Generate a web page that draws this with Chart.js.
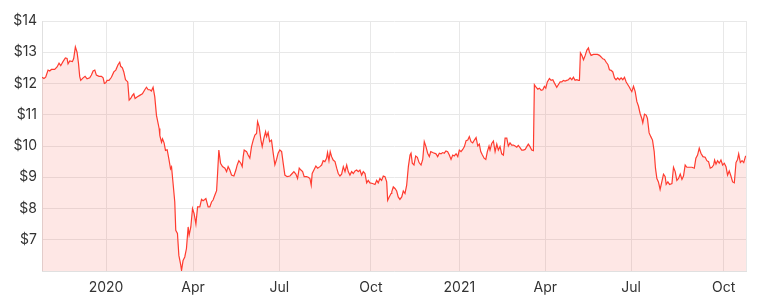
<!DOCTYPE html>
<html>
<head>
<meta charset="utf-8">
<script src="https://cdn.jsdelivr.net/npm/chart.js@4/dist/chart.umd.min.js"></script>
<style>
html,body{margin:0;padding:0;background:#fff;}
#wrap{width:764px;height:304px;position:relative;}
</style>
</head>
<body>
<div id="wrap"><canvas id="c" width="764" height="304"></canvas></div>
<script>
// Trading-session index (0 = first session shown, ~Nov 2019) and closing price
const sessionIdx = [
0,1.4,2.6,4.3,5.5,6.7,9.0,10.7,12.1,13.3,14.9,16.6,17.8,18.5,19.7,21.6,22.5,23.7,24.9,25.9,
26.8,27.5,29.2,30.6,32.0,33.9,35.1,36.3,37.5,38.6,40.5,42.2,43.4,44.3,45.3,46.2,47.6,49.3,51.0,52.4,
54.0,55.2,55.9,57.1,58.1,59.3,60.9,61.9,63.0,64.2,65.2,66.1,67.5,69.4,71.3,73.0,74.2,75.4,76.6,77.7,
78.9,80.1,81.3,83.2,83.7,84.9,85.6,86.7,87.7,88.9,90.1,91.3,92.0,93.1,94.3,95.0,96.2,97.2,98.4,99.1,
100.2,101.4,102.6,103.8,104.5,105.7,106.9,108.0,109.3,110.5,112.1,113.3,114.4,115.6,116.4,118.0,119.2,120.4,121.5,122.8,
124.0,124.7,125.6,126.8,128.2,129.9,131.1,132.2,133.4,134.6,136.3,137.7,138.6,139.8,141.2,142.2,142.9,143.6,145.3,146.4,
147.6,148.8,150.0,151.2,152.4,153.1,154.2,155.5,156.4,157.6,158.8,159.5,160.6,161.7,163.0,164.2,165.4,166.6,167.7,168.9,
170.2,171.3,172.5,174.1,176.1,177.7,178.9,180.3,181.5,182.7,183.9,185.1,186.2,187.9,189.1,190.3,191.2,191.9,193.3,194.5,
195.8,197.4,198.6,199.7,200.9,202.1,202.8,203.8,204.7,205.7,206.8,208.1,209.3,210.4,211.6,212.8,214.0,215.2,216.4,217.5,
218.7,219.9,221.1,222.3,223.5,224.6,225.8,227.0,228.2,229.4,230.6,231.7,232.9,234.8,236.5,237.7,238.8,240.0,241.2,242.4,
243.6,244.8,245.5,246.6,247.9,248.4,249.5,250.7,251.9,253.0,254.2,255.5,256.6,257.8,259.0,260.2,261.4,262.1,263.0,264.2,
265.4,266.6,267.8,269.2,270.4,271.5,272.7,273.9,275.1,276.1,277.5,278.6,279.8,281.0,282.2,283.4,284.6,285.7,286.9,288.1,
289.3,290.5,291.7,292.8,294.1,295.3,296.4,297.6,298.8,300.0,301.2,302.4,303.5,304.7,305.9,307.1,308.3,309.5,310.6,311.6,
312.8,314.0,315.2,316.3,317.5,318.2,319.4,320.6,321.8,323.0,324.1,325.3,326.5,327.7,328.9,330.1,331.2,332.4,333.6,334.8,
336.0,337.2,338.3,339.5,340.7,341.9,343.1,344.3,345.4,346.6,347.8,349.0,349.7,350.9,352.1,353.3,354.5,355.7,356.8,357.8,
358.9,360.4,361.6,362.8,363.9,365.6,366.7,368.0,369.2,370.3,371.5,372.7,373.9,375.1,376.3,377.4,378.6,379.8,381.0,381.7,
382.4,383.4,384.6,385.8,387.0,388.1,388.8,390.0,391.7,392.9,394.5,395.9,397.1,398.3,399.5,400.7,401.9,403.0,404.2,405.4,
406.6,407.7,408.9,410.1,411.3,412.5,413.7,414.9,416.1,417.2,418.1,418.9,420.1,421.3,422.5,423.6,424.8,426.0,426.7,427.9,
429.1,430.0,431.2,432.4,433.6,434.8,435.7,436.7,437.8,439.0,440.2,441.4,442.6,443.3,444.5,445.7,447.4,448.5,449.7,450.9,
452.1,453.3,454.5,455.6,456.8,458.0,459.9,461.6,463.3,464.4,465.6,466.8,468.0,469.4,471.0,472.2,473.4,474.6,475.8,477.0,
477.7,478.7,479.8,481.0,482.2,483.4,484.6,485.8,486.9,488.1,489.3,490.5,491.7,492.9,494.0,494.8,496.0,497.2,498.4,499.6,
500.0
];
const closePrice = [
12.20,12.16,12.20,12.43,12.40,12.45,12.45,12.53,12.65,12.57,12.70,12.82,12.80,12.63,12.72,12.70,12.80,13.17,13.00,12.65,
12.22,12.10,12.18,12.23,12.15,12.18,12.27,12.40,12.43,12.27,12.23,12.23,12.18,12.00,12.02,12.10,12.10,12.20,12.37,12.43,
12.60,12.68,12.55,12.50,12.37,12.12,12.05,11.47,11.52,11.62,11.67,11.52,11.57,11.62,11.67,11.80,11.88,11.80,11.80,11.76,
11.88,11.57,10.98,10.56,10.33,10.12,10.23,10.10,9.86,9.88,9.59,9.27,9.33,8.80,8.21,7.30,7.20,6.50,6.23,6.02,
6.34,6.45,6.72,7.41,7.15,7.41,8.00,7.84,7.50,8.05,8.05,8.29,8.25,8.29,8.32,8.05,8.05,8.21,8.27,8.43,
8.57,9.12,9.87,9.45,9.34,9.29,9.18,9.34,9.23,9.07,9.04,9.23,9.39,9.53,9.45,9.34,9.66,9.87,9.82,9.71,
9.61,9.98,10.19,10.35,10.40,10.78,10.62,10.19,9.98,10.25,10.46,10.30,10.43,10.14,10.19,9.77,9.40,9.57,9.77,9.87,
9.82,9.45,9.07,9.02,9.04,9.12,9.18,9.10,8.96,9.29,9.23,9.18,9.02,9.02,9.00,8.96,8.75,9.12,9.25,9.36,
9.29,9.34,9.39,9.53,9.50,9.61,9.79,9.53,9.82,9.66,9.55,9.50,9.29,9.12,9.04,9.10,9.34,9.18,9.39,9.18,
9.07,9.18,9.12,9.20,9.23,9.18,9.23,9.07,9.18,9.12,8.82,8.90,8.82,8.80,8.77,8.90,8.82,8.96,8.90,9.04,
9.02,8.85,8.26,8.37,8.48,8.53,8.69,8.64,8.56,8.37,8.29,8.37,8.56,8.48,8.75,9.34,9.71,9.77,9.45,9.39,
9.68,9.64,9.47,9.39,9.57,10.14,9.98,9.77,9.66,9.82,9.79,9.77,9.75,9.66,9.77,9.75,9.79,9.77,9.84,9.82,
9.71,9.57,9.71,9.68,9.75,9.66,9.87,9.82,9.89,9.98,10.17,10.19,10.30,10.14,10.10,10.19,10.27,10.00,10.06,9.82,
9.71,9.61,9.57,9.82,10.00,9.87,10.08,10.16,9.82,10.06,9.87,9.98,9.75,9.71,10.25,10.25,10.00,10.10,10.03,10.03,
10.00,9.96,10.02,9.95,9.87,9.87,9.89,9.98,10.06,9.98,9.87,9.85,11.96,11.88,11.82,11.85,11.78,11.80,11.91,11.85,
12.05,12.16,12.10,12.12,12.02,11.88,11.96,12.05,12.05,12.10,12.08,12.10,12.12,12.18,12.12,12.20,12.10,12.12,12.10,12.10,
12.98,12.90,12.76,12.90,13.07,13.14,13.01,12.90,12.93,12.93,12.93,12.90,12.85,12.79,12.77,12.68,12.61,12.44,12.42,12.37,
12.18,12.12,12.18,12.12,12.18,12.12,12.20,12.05,11.96,11.88,11.80,11.74,11.91,11.74,11.42,11.28,11.04,10.88,10.74,11.02,
10.99,10.88,10.42,10.30,10.19,9.82,9.29,8.96,8.85,8.61,8.85,9.10,9.02,8.77,8.85,8.77,8.80,9.32,9.18,8.90,
8.96,9.10,8.93,9.04,9.39,9.32,9.32,9.32,9.29,9.61,9.71,9.93,9.77,9.66,9.64,9.53,9.50,9.29,9.32,9.39,
9.55,9.42,9.53,9.45,9.55,9.39,9.45,9.34,9.07,9.20,9.04,8.85,8.82,9.47,9.57,9.75,9.47,9.53,9.47,9.66,
9.68
];
// X tick positions (session index) and their labels
const tickSessions = [0, 45.5, 107.3, 168.5, 233.6, 296.4, 357.5, 418.4, 484.1, 500];
const tickLabels = ['', '2020', 'Apr', 'Jul', 'Oct', '2021', 'Apr', 'Jul', 'Oct', ''];
const yTicks = [6, 7, 8, 9, 10, 11, 12, 13, 14];

const points = sessionIdx.map((x, i) => ({x: x, y: closePrice[i]}));
const FONT = {family: 'Inter, "Noto Sans", sans-serif', size: 14};

new Chart(document.getElementById('c'), {
  type: 'line',
  data: {
    datasets: [{
      data: points,
      borderColor: '#ff3b2f',
      borderWidth: 1.2,
      backgroundColor: 'rgba(244, 67, 54, 0.13)',
      fill: 'start',
      pointRadius: 0,
      tension: 0
    }]
  },
  options: {
    responsive: false,
    animation: false,
    parsing: true,
    layout: {padding: {top: 21, right: 18, left: 0, bottom: 0}},
    plugins: {legend: {display: false}, tooltip: {enabled: false}},
    scales: {
      x: {
        type: 'linear',
        min: 0,
        max: 500,
        afterBuildTicks: (s) => { s.ticks = tickSessions.map(v => ({value: v})); },
        afterFit: (s) => { s.height = 33; },
        ticks: {
          autoSkip: false, maxRotation: 0, padding: 8,
          color: '#333', font: FONT,
          callback: (v, i) => tickLabels[i]
        },
        grid: {color: '#e8e8e8', drawTicks: false},
        border: {color: '#e0e0e0'}
      },
      y: {
        min: 6,
        max: 14,
        afterBuildTicks: (s) => { s.ticks = yTicks.map(v => ({value: v})); },
        afterFit: (s) => { s.width = 42; },
        ticks: {
          padding: 5, color: '#333', font: FONT,
          callback: (v) => v === 6 ? '' : '$' + v
        },
        grid: {color: '#e8e8e8', drawTicks: false},
        border: {color: '#e0e0e0'}
      }
    }
  }
});
</script>
</body>
</html>
